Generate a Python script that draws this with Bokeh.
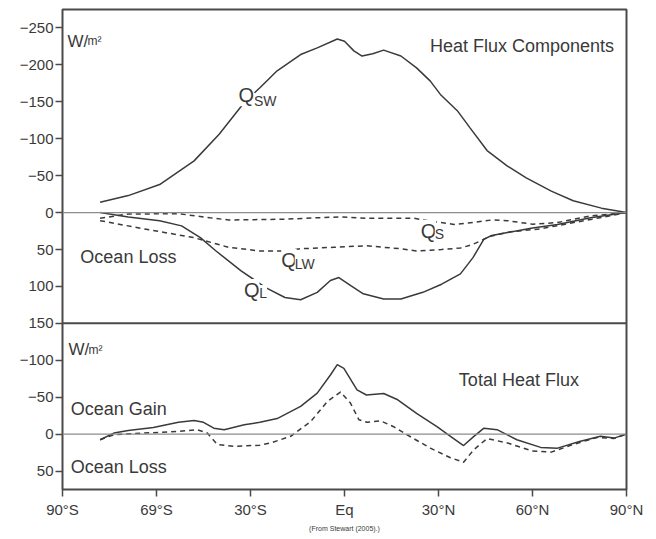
from bokeh.plotting import figure
from bokeh.models import Range1d, FixedTicker, Label, Span, Title
from bokeh.embed import file_html
from bokeh.resources import INLINE

# ---------------- data (latitude in degrees, flux in W/m^2; negative = ocean gain) ----------------
lat_ticks = [-90, -60, -30, 0, 30, 60, 90]
lat_tick_labels = ["90°S", "69°S", "30°S", "Eq", "30°N", "60°N", "90°N"]

top_ticks = [-250, -200, -150, -100, -50, 0, 50, 100, 150]
bottom_ticks = [-100, -50, 0, 50]

q_sw_lat = [-78, -69, -59, -48, -40, -32, -27, -21.5, -14, -8.7, -2.3, 0, 3, 5.6, 9, 12.5, 18, 23, 27.4,
            30.6, 36, 40, 45.5, 52, 58, 66, 73, 82, 90]
q_sw_val = [-14, -23, -38, -70, -106, -149, -169, -192, -214, -223, -235, -232, -219, -212, -215, -220, -212,
            -196, -178, -160, -138, -115, -84, -63, -47, -29, -16, -6, 0]

q_l_lat = [-78, -69, -59, -52, -46, -41, -33, -25, -19, -14, -8.7, -4.5, -1.8, 2, 6, 12.5, 18, 25, 31, 37,
           41, 44.5, 47, 52, 60, 68, 78.5, 90]
q_l_val = [0, 6, 11, 18, 34, 52, 79, 102, 115, 118, 108, 92, 88, 99, 110, 117, 117, 108, 97, 83, 61, 36, 31,
           27, 21, 16, 7, 0]

q_lw_lat = [-78, -64, -48, -37, -27, -20, -14, -3.5, 7, 18, 23, 31, 37, 41, 46.6, 53, 62.6, 70, 79, 90]
q_lw_val = [11, 22, 34, 47, 52, 52, 49, 47, 45, 49, 52, 50, 48, 43, 32, 26, 22, 16, 9, 0]

q_s_lat = [-78, -69, -53, -43, -37, -27, -19, -9, -1, 7, 15, 22, 28, 35, 41, 47, 52, 60, 68, 78.5, 90]
q_s_val = [7.6, 2, 1.5, 7, 10, 9.5, 9, 7, 6, 7.6, 7.6, 7.6, 12, 16, 13.5, 10, 11, 15.7, 13.5, 4.5, 0]

total_lat = [-78, -73.6, -69, -61, -53, -48, -45, -41.7, -38.4, -32, -27, -21.5, -14, -8.7, -4.5, -2.3, -0.2,
             4, 7, 12.5, 17, 23, 29.5, 34.5, 38, 41.3, 44.5, 48.7, 55, 62.6, 68, 75, 81.7, 86, 90]
total_val = [7.6, -1.4, -5, -9, -16, -18.5, -16, -8, -6, -12.7, -16, -21, -37.5, -55.5, -80, -94, -89, -60, -53,
             -55, -46.5, -28, -10, 5, 15.5, 3, -8, -6, 7.6, 18, 19, 10, 3, 5.4, 0]

total2_lat = [-78, -73.6, -64, -53, -47, -43.8, -40.6, -35, -27, -23.6, -17.2, -10.8, -5.5, -1.3, 1.9, 4.6,
              7.2, 11.5, 15.7, 20, 27.4, 33.8, 38, 41.3, 45.5, 52, 60, 66, 73, 80.6, 86, 90]
total2_val = [7.6, 0.8, -1.4, -3.6, -6, -1.4, 14, 16.6, 15, 12, 3, -17, -44, -57, -42, -19.5, -16, -18, -10,
              1, 19, 32, 38, 21, 6, 12, 23, 24.4, 14, 4.5, 6, 0]

# ---------------- styling ----------------
FONT = "Liberation Sans"
INK = "#3a3a3a"
TXT = "#3a3a3a"
FRAME = "#4a4a4a"
ZERO = "#8c8c8c"

# Top panel uses the main y range (-275 .. 150), bottom panel an extra range (-150 .. 75) stacked below it
p = figure(width=648, height=534, x_range=Range1d(-90, 90), y_range=Range1d(375, -275),
           output_backend="svg", toolbar_location=None,
           min_border_left=62, min_border_right=22, min_border_top=9, min_border_bottom=45)
p.extra_y_ranges = {"bot": Range1d(75, -575)}

p.background_fill_color = "white"
p.border_fill_color = "white"
p.outline_line_color = FRAME
p.outline_line_width = 2
p.grid.visible = False


def fmt(v):
    return ("\u2212" + str(abs(v))) if v < 0 else str(v)


# y axis: top panel ticks on the main range, bottom panel ticks shifted onto it (bottom -150 == top 150)
shift = 150 - (-150)
ytick_pos = top_ticks + [t + shift for t in bottom_ticks]
ytick_lab = {t: fmt(t) for t in top_ticks}
ytick_lab.update({t + shift: fmt(t) for t in bottom_ticks})
p.yaxis.ticker = FixedTicker(ticks=ytick_pos)
p.yaxis.major_label_overrides = ytick_lab

p.xaxis.ticker = FixedTicker(ticks=lat_ticks)
p.xaxis.major_label_overrides = dict(zip(lat_ticks, lat_tick_labels))

for ax in (p.xaxis[0], p.yaxis[0]):
    ax.axis_line_color = None
    ax.major_tick_line_color = FRAME
    ax.major_tick_line_width = 1.5
    ax.major_tick_out = 7
    ax.major_tick_in = 0
    ax.minor_tick_out = 0
    ax.minor_tick_in = 0
    ax.major_label_text_font = FONT
    ax.major_label_text_font_size = "15px"
    ax.major_label_text_color = TXT
p.yaxis.major_label_standoff = 2
p.xaxis.major_label_standoff = 4

# panel divider and zero lines
p.add_layout(Span(location=150, dimension="width", line_color=FRAME, line_width=2))
p.add_layout(Span(location=0, dimension="width", line_color=ZERO, line_width=1.2))
p.add_layout(Span(location=0, dimension="width", line_color=ZERO, line_width=1.2, y_range_name="bot"))

# top panel curves
p.line(q_sw_lat, q_sw_val, line_color=INK, line_width=1.5)
p.line(q_l_lat, q_l_val, line_color=INK, line_width=1.5)
p.line(q_lw_lat, q_lw_val, line_color=INK, line_width=1.5, line_dash="5 4")
p.line(q_s_lat, q_s_val, line_color=INK, line_width=1.5, line_dash="5 4")

# bottom panel curves
p.line(total_lat, total_val, line_color=INK, line_width=1.5, y_range_name="bot")
p.line(total2_lat, total2_val, line_color=INK, line_width=1.5, line_dash="5 4", y_range_name="bot")


def lab(x, y, text, size="18px", align="left", rng="default", mask=False):
    p.add_layout(Label(x=x, y=y, text=text, text_font=FONT, text_font_size=size, text_color=TXT,
                       text_align=align, text_baseline="alphabetic", y_range_name=rng,
                       background_fill_color="white" if mask else None))


# top panel texts
lab(-88.4, -232, "W/", "17px")
lab(-82.0, -232, "m²", "12px")
lab(86.0, -225, "Heat Flux Components", align="right")
lab(-84.3, 60.5, "Ocean Loss")
# curve names (masked so the curves break around them, as in the original)
lab(-33.8, -159, "Q", "20px", mask=True)
lab(-28.9, -151, "SW", "14px", mask=True)
lab(-20.2, 64, "Q", "20px", mask=True)
lab(-15.9, 70, "LW", "14px", mask=True)
lab(-32.1, 105, "Q", "20px", mask=True)
lab(-27.2, 109, "L", "14px", mask=True)
lab(24.3, 25, "Q", "20px", mask=True)
lab(28.8, 29.5, "S", "14px", mask=True)

# bottom panel texts
lab(-88.1, -114, "W/", "17px", rng="bot")
lab(-81.7, -114, "m²", "12px", rng="bot")
lab(-87.4, -33.7, "Ocean Gain", rng="bot")
lab(-87.4, 44.8, "Ocean Loss", rng="bot")
lab(36.5, -73.5, "Total Heat Flux", rng="bot")

p.add_layout(Title(text="(From Stewart (2005).)", align="center", text_font=FONT, text_font_size="7px",
                   text_font_style="normal", text_color=TXT, standoff=5), "below")

open("out.html", "w").write(file_html(p, INLINE))
